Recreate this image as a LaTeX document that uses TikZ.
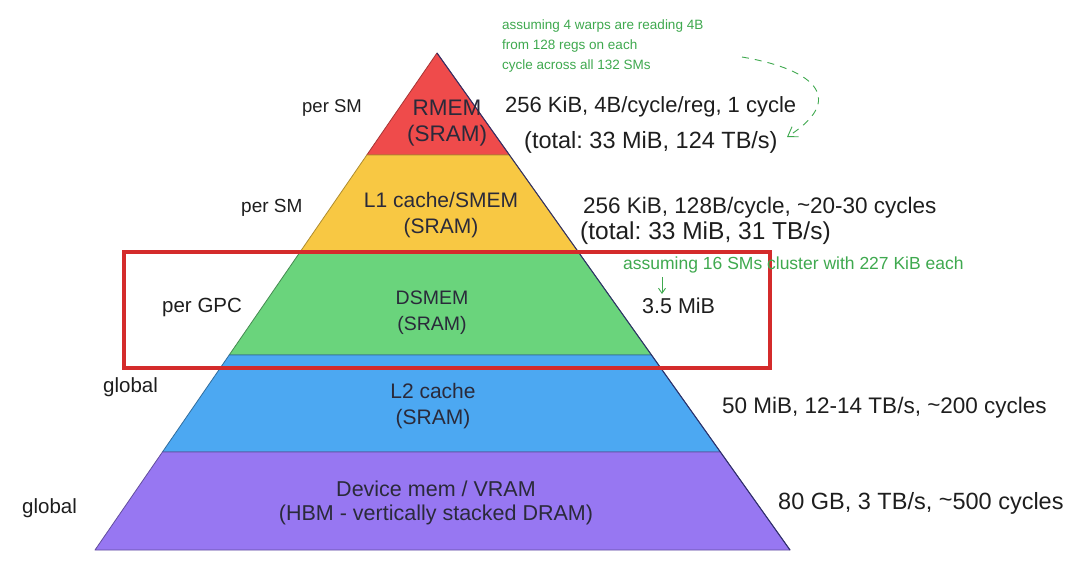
\documentclass[tikz,border=0pt]{standalone}
\usepackage{fontspec}
\setmainfont{Liberation Sans}
\usetikzlibrary{calc,arrows.meta}
\definecolor{cred}{HTML}{EF4B4B}
\definecolor{cyellow}{HTML}{F8C843}
\definecolor{cgreen}{HTML}{6AD47C}
\definecolor{cblue}{HTML}{4CA8F2}
\definecolor{cpurple}{HTML}{9777F2}
\definecolor{edge}{HTML}{2E2F6A}
\definecolor{ink}{HTML}{1E1E1E}
\definecolor{inkin}{HTML}{2A2A3A}
\definecolor{notegreen}{HTML}{3FA94F}
\definecolor{boxred}{HTML}{D42B2B}
\frenchspacing
\begin{document}
\begin{tikzpicture}[x=1pt,y=-1pt,
  layer/.style={line width=0.8pt, line join=round},
  lbl/.style={font=\fontsize{22.5}{26}\selectfont, text=ink, inner sep=0pt},
  sidelbl/.style={font=\fontsize{19.5}{23}\selectfont, text=ink, inner sep=0pt},
  inlbl/.style={font=\fontsize{21}{26}\selectfont, text=inkin, align=center, inner sep=0pt},
  note/.style={font=\fontsize{13.5}{20}\selectfont, text=notegreen, align=left, inner sep=0pt},
  notearrow/.style={draw=notegreen, line width=0.9pt, -{Straight Barb[length=9pt,width=12pt]}},
  redbox/.style={draw=boxred, line width=3.5pt}]
\useasboundingbox (0,0) rectangle (1080,563);
\fill[white] (0,0) rectangle (1080,563);

% pyramid geometry
\coordinate (apex) at (437,53);
\coordinate (bl) at (95,550);
\coordinate (br) at (790,550);
\coordinate (l1) at ($(apex)!0.2052!(bl)$);
\coordinate (r1) at ($(apex)!0.2052!(br)$);
\coordinate (l2) at ($(apex)!0.4004!(bl)$);
\coordinate (r2) at ($(apex)!0.4004!(br)$);
\coordinate (l3) at ($(apex)!0.6076!(bl)$);
\coordinate (r3) at ($(apex)!0.6076!(br)$);
\coordinate (l4) at ($(apex)!0.8028!(bl)$);
\coordinate (r4) at ($(apex)!0.8028!(br)$);

\filldraw[layer, fill=cred, draw=cred!70!black] (apex) -- (r1) -- (l1) -- cycle;
\filldraw[layer, fill=cyellow, draw=cyellow!70!black] (l1) -- (r1) -- (r2) -- (l2) -- cycle;
\filldraw[layer, fill=cgreen, draw=cgreen!65!black] (l2) -- (r2) -- (r3) -- (l3) -- cycle;
\filldraw[layer, fill=cblue, draw=cblue!65!black] (l3) -- (r3) -- (r4) -- (l4) -- cycle;
\filldraw[layer, fill=cpurple, draw=cpurple!65!black] (l4) -- (r4) -- (br) -- (bl) -- cycle;
\draw[edge, line width=1pt] (apex) -- (br);

% highlight box
\draw[redbox] (124,252) rectangle (770,368);

% inside labels
\node[inlbl, font=\fontsize{22.5}{26}\selectfont] (rmem) at (447,123) {RMEM\\(SRAM)};
\node[inlbl] (l1c) at (441,215) {L1 cache/SMEM\\(SRAM)};
\node[inlbl, font=\fontsize{19.5}{26}\selectfont] (dsm) at (432,313) {DSMEM\\(SRAM)};
\node[inlbl] (l2c) at (433,406) {L2 cache\\(SRAM)};
\node[inlbl, font=\fontsize{21.5}{24}\selectfont] (dev) at (436,503) {Device mem / VRAM\\(HBM - vertically stacked DRAM)};

% left labels
\node[sidelbl, anchor=west, font=\fontsize{18.5}{22}\selectfont] (s1) at (302,108) {per SM};
\node[sidelbl, anchor=west, font=\fontsize{19}{22}\selectfont] (s2) at (241,208) {per SM};
\node[sidelbl, anchor=west, font=\fontsize{20.5}{22}\selectfont] (s3) at (162,307) {per GPC};
\node[sidelbl, anchor=west, font=\fontsize{20.5}{22}\selectfont] (s4) at (103,387) {global};
\node[sidelbl, anchor=west, font=\fontsize{20.5}{22}\selectfont] (s5) at (22,508) {global};

% right labels
\node[lbl, anchor=west, font=\fontsize{22}{26}\selectfont] (rm1) at (505,107) {256 KiB, 4B/cycle/reg, 1 cycle};
\node[lbl, anchor=west, font=\fontsize{23.5}{26}\selectfont] (tot) at (524,142) {(total: 33 MiB, 124 TB/s)};
\node[lbl, anchor=west] (l1a) at (583,208) {256 KiB, 128B/cycle, {\raisebox{0.1ex}{\textasciitilde}}20-30 cycles};
\node[lbl, anchor=west, font=\fontsize{24.5}{26}\selectfont] (l1b) at (580,233) {(total: 33 MiB, 31 TB/s)};
\node[lbl, anchor=west, font=\fontsize{21.5}{26}\selectfont] (dsr) at (642,306) {3.5 MiB};
\node[lbl, anchor=west] (l2r) at (722,408) {50 MiB, 12-14 TB/s, {\raisebox{0.1ex}{\textasciitilde}}200 cycles};
\node[lbl, anchor=west, font=\fontsize{23.5}{26}\selectfont] (devr) at (778,503) {80 GB, 3 TB/s, {\raisebox{0.1ex}{\textasciitilde}}500 cycles};

% green notes
\node[note, anchor=north west] (n1) at (502,20) {assuming 4 warps are reading 4B\\from 128 regs on each\\cycle across all 132 SMs};
\coordinate (n1s) at (742,57);
\coordinate (n1e) at (787,137);
\draw[notearrow, dashed, dash pattern=on 7pt off 6pt] (n1s) .. controls (818,70) and (845,100) .. (n1e);

\node[note, anchor=west, font=\fontsize{17.5}{20}\selectfont] (n2) at (623,265) {assuming 16 SMs cluster with 227 KiB each};
\coordinate (n2s) at (662,277);
\coordinate (n2e) at (662,294);
\draw[notearrow, -{Straight Barb[length=5pt,width=7pt]}] (n2s) -- (n2e);
\end{tikzpicture}
\end{document}
